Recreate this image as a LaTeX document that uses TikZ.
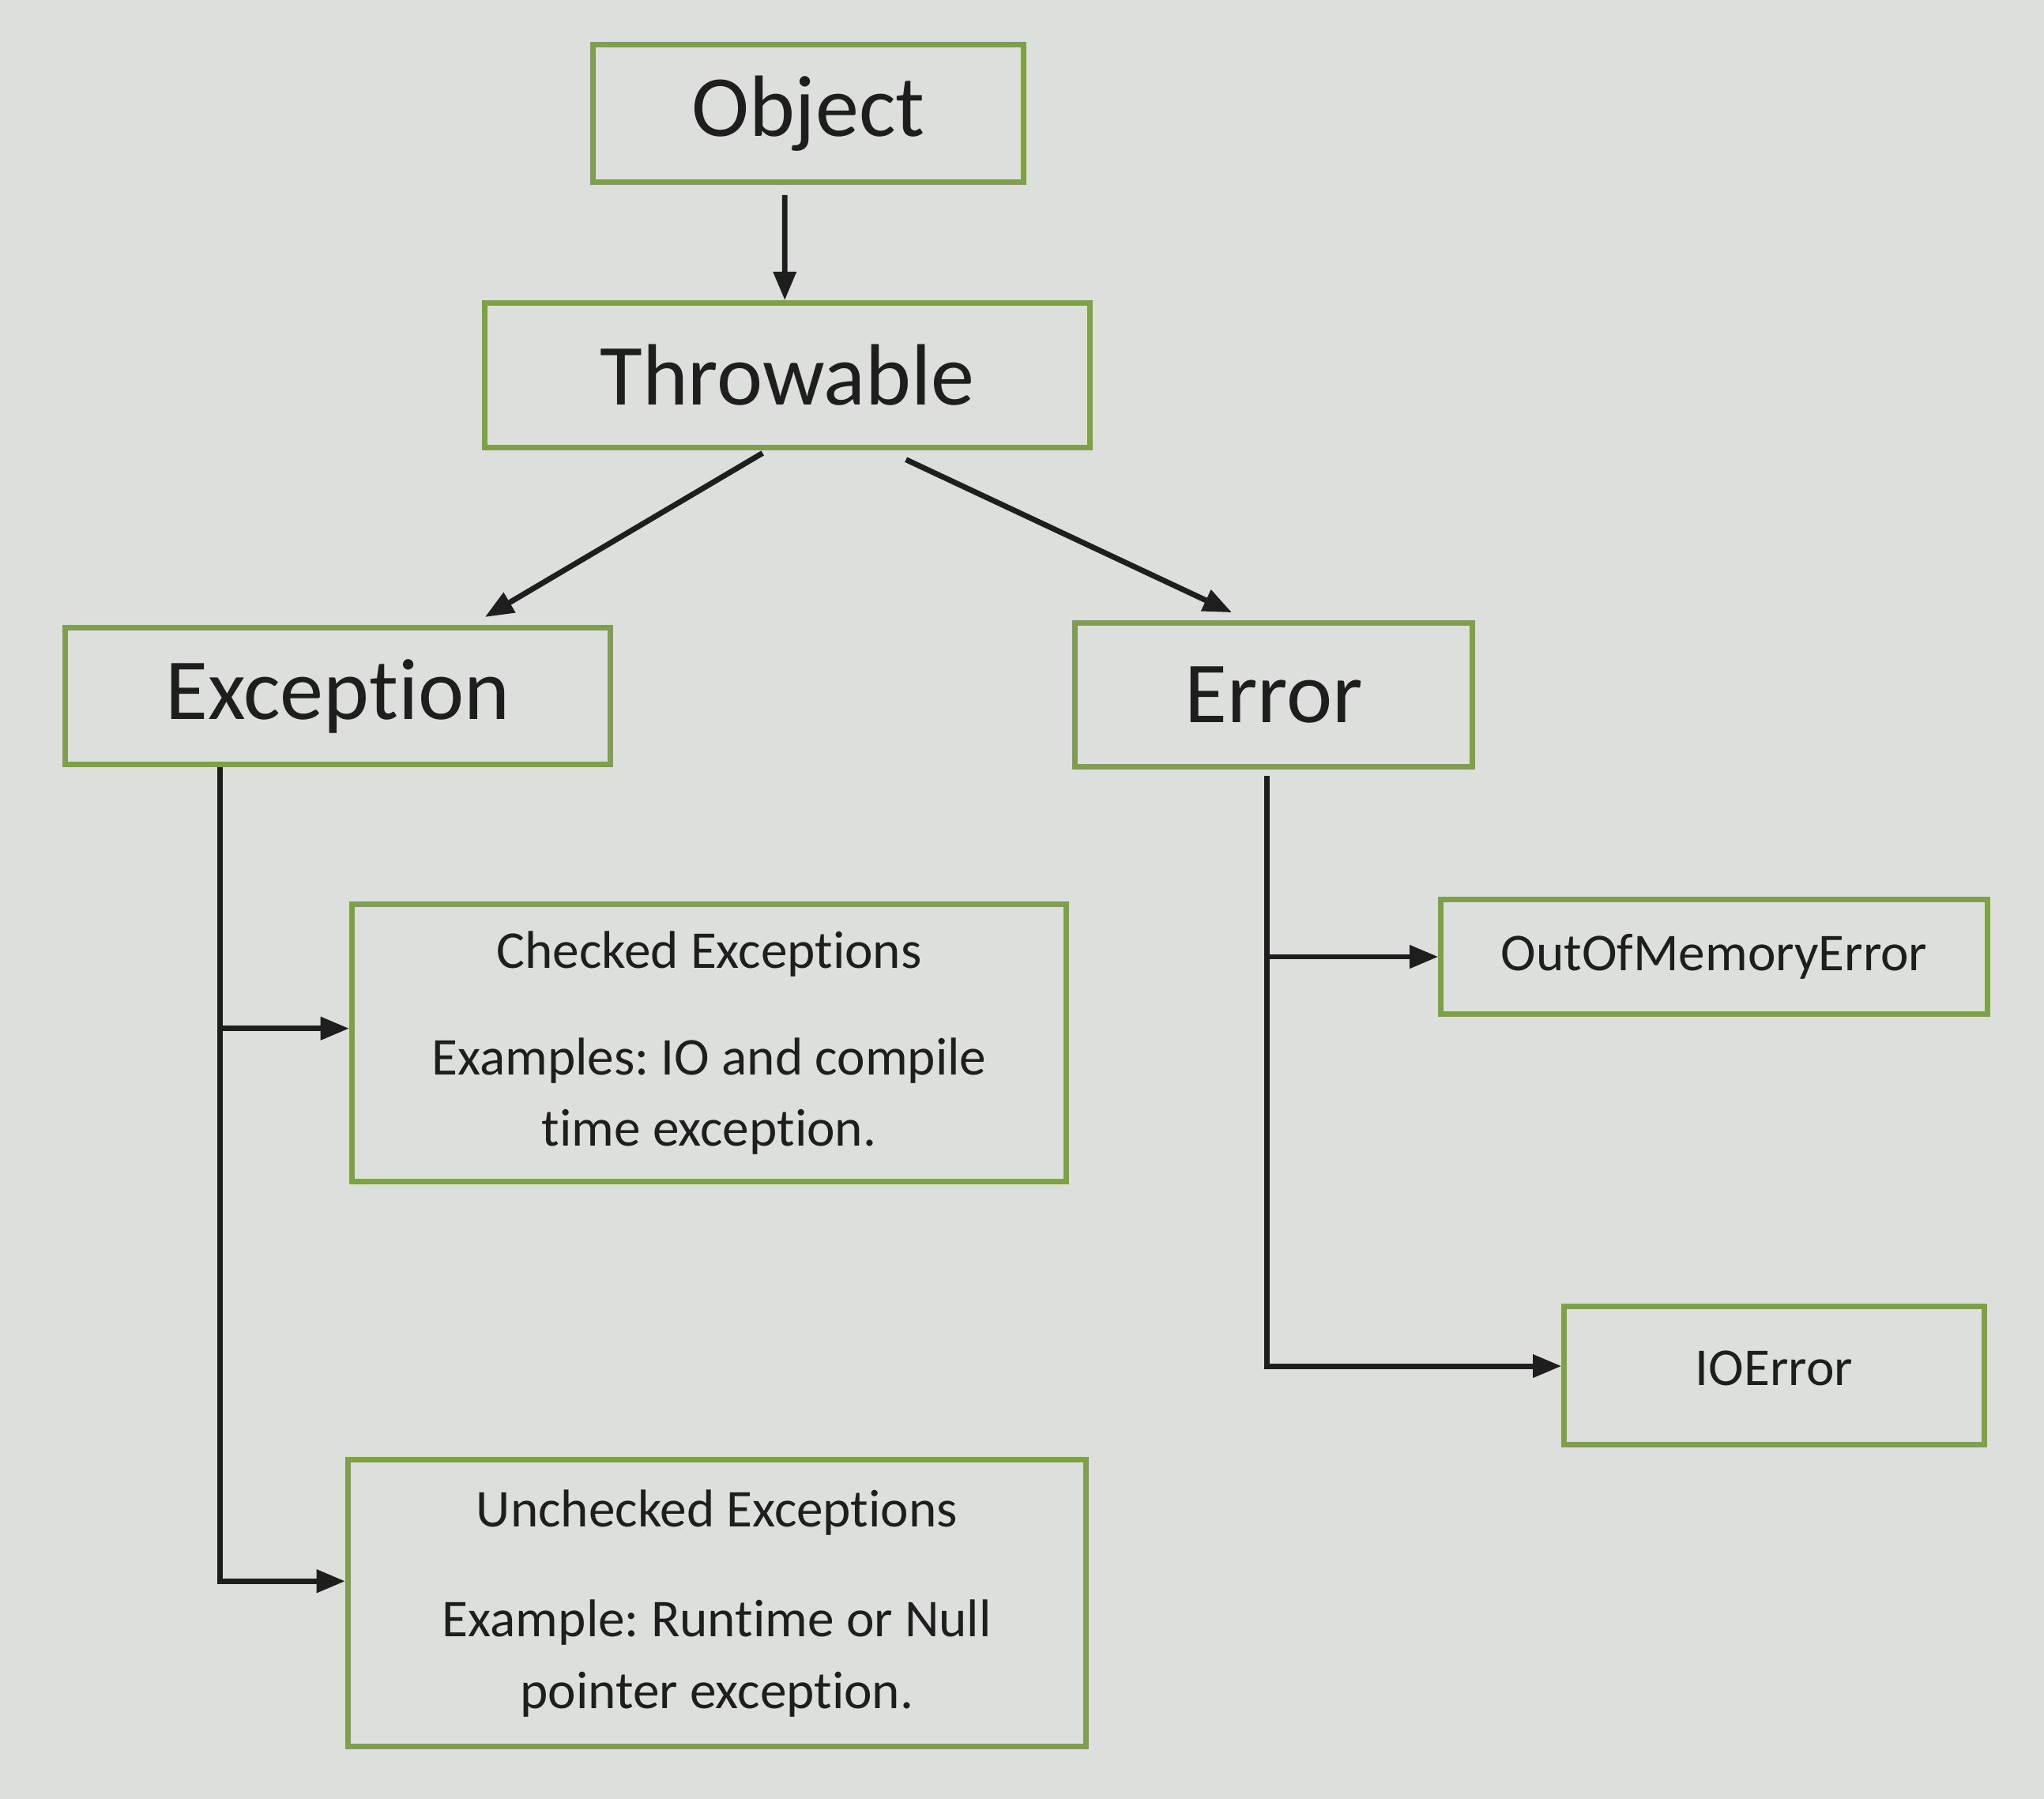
\documentclass[tikz,border=0pt]{standalone}
\usepackage{fontspec}
\setmainfont{Carlito}[Ligatures=NoCommon]
\usetikzlibrary{arrows.meta}
\definecolor{bggray}{HTML}{DDDFDC}
\definecolor{boxgreen}{HTML}{7FA04A}
\definecolor{inkblack}{HTML}{1E1E1E}
\frenchspacing

\begin{document}
\begin{tikzpicture}[
      big box/.style={draw=boxgreen, line width=1.2pt, inner sep=0pt, text=inkblack,
          font=\fontsize{19}{23}\selectfont},
      small box/.style={draw=boxgreen, line width=1.2pt, inner sep=0pt, text=inkblack,
          align=center, font=\fontsize{11.6}{15.6}\selectfont},
      arr/.style={draw=inkblack, line width=1.2pt, -{Triangle[length=0.22cm,width=0.17cm]}},
  ]

  % Hintergrund und Rahmen
  \fill[bggray] (0,0) rectangle (15.68,13.80);
  \useasboundingbox (0,0) rectangle (15.68,13.80);

  % Obere Ebene
  \node[big box, minimum width=3.30cm, minimum height=1.05cm] (object) at (6.20,12.93) {Object};
  \node[big box, minimum width=4.64cm, minimum height=1.11cm] (throwable) at (6.04,10.92) {Throwable};

  % Zweite Ebene
  \node[big box, minimum width=4.18cm, minimum height=1.05cm] (exception) at (2.59,8.46) {Exception};
  \node[big box, minimum width=3.05cm, minimum height=1.10cm] (error) at (9.77,8.47) {Error};

  % Ausnahmen
  \node[small box, minimum width=5.48cm, minimum height=2.13cm] (checked) at (5.44,5.80)
      {Checked Exceptions\\[7.7pt] Examples: IO and compile\\ time exception.};
  \node[small box, minimum width=5.66cm, minimum height=2.20cm] (unchecked) at (5.50,1.50)
      {Unchecked Exceptions\\[8.5pt] Example: Runtime or Null\\ pointer exception.};

  % Fehler
  \node[small box, minimum width=4.19cm, minimum height=0.88cm] (oomerror) at (13.15,6.46) {OutOfMemoryError};
  \node[small box, minimum width=3.22cm, minimum height=1.06cm] (ioerror) at (13.61,3.25) {\raisebox{0.11cm}{IOError}};

  % Pfeile
  \draw[arr] ([xshift=-0.18cm,yshift=-0.08cm]object.south) -- ([xshift=-0.02cm]throwable.north);
  \draw[arr] ([xshift=-0.19cm,yshift=-0.02cm]throwable.south) -- ([xshift=1.13cm,yshift=0.06cm]exception.north);
  \draw[arr] ([xshift=0.91cm,yshift=-0.07cm]throwable.south) -- ([xshift=-0.32cm,yshift=0.06cm]error.north);

  \draw[arr] ([xshift=-0.90cm]exception.south) |- ([yshift=0.11cm]checked.west);
  \draw[arr] ([xshift=-0.90cm]exception.south) |- ([yshift=0.17cm]unchecked.west);

  \draw[arr] ([xshift=-0.05cm,yshift=-0.05cm]error.south) |- (oomerror.west);
  \draw[arr] ([xshift=-0.05cm,yshift=-0.05cm]error.south) |- ([yshift=0.07cm]ioerror.west);

\end{tikzpicture}
\end{document}
